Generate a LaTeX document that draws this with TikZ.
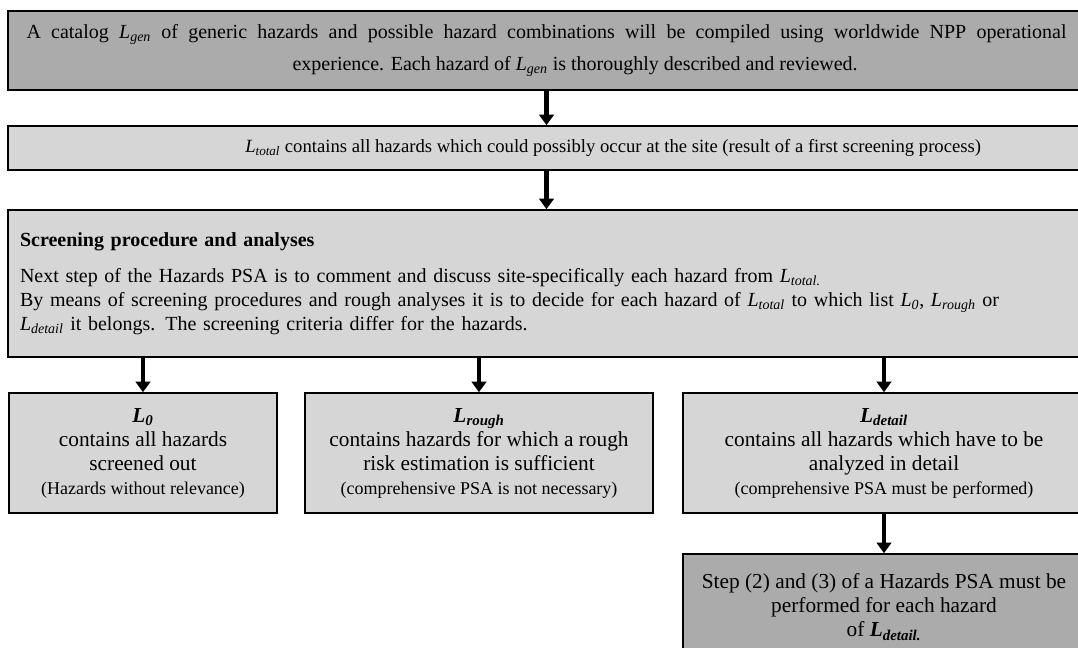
\documentclass[tikz,border=0pt]{standalone}
\usepackage{fontspec}
\setmainfont{Liberation Serif}
\usetikzlibrary{arrows.meta}

% list names such as L_gen, L_total
\newcommand{\Lit}[1]{\textit{L}\textsubscript{\textit{#1}}}
\newcommand{\Lbf}[1]{\textbf{\textit{L}\textsubscript{\textit{#1}}}}
\newcommand{\smallnote}[1]{{\fontsize{13.5}{15}\selectfont #1}}

\definecolor{boxdark}{HTML}{ABABAB}
\definecolor{boxlight}{HTML}{D6D6D6}

\tikzset{
  panel/.style={draw=black, line width=1.2pt, inner sep=0pt},
  darkpanel/.style={panel, fill=boxdark},
  lightpanel/.style={panel, fill=boxlight},
  flow/.style={line width=3.2pt, -{Triangle[width=11pt,length=8pt]}},
  topfont/.style={font=\fontsize{14}{18}\selectfont},
  body/.style={font=\fontsize{15}{18}\selectfont},
  listfont/.style={font=\fontsize{16}{18}\selectfont},
}

\begin{document}
\begin{tikzpicture}[x=0.75pt,y=-0.75pt]
\useasboundingbox (0,0) rectangle (1078,648);
\clip (0,0) rectangle (1078,648);

% catalog of generic hazards
\node[darkpanel, body, minimum width=807.75pt, minimum height=59.25pt, align=center] (gen) at (546.5,50.5)
  {\makebox[780pt][s]{A catalog \Lit{gen} of generic hazards and possible hazard combinations will be compiled using worldwide NPP operational}\\[6pt]
   \hspace*{43pt}experience. Each hazard of \Lit{gen} is thoroughly described and reviewed.};

% first screening result
\node[lightpanel, topfont, minimum width=807.75pt, minimum height=33pt] (total) at (546.5,148)
  {\hspace*{100pt}\Lit{total} contains all hazards which could possibly occur at the site (result of a first screening process)};

% screening procedure
\node[lightpanel, body, text width=789.75pt, inner xsep=9pt, minimum height=110.25pt, align=left] (screen) at (546.5,283.5)
  {\textbf{Screening procedure and analyses}\\[9pt]
   Next step of the Hazards PSA is to comment and discuss site-specifically each hazard from \Lit{total.}\\
   \makebox[774pt][s]{By means of screening procedures and rough analyses it is to decide for each hazard of \Lit{total} to which list \Lit{0}, \Lit{rough} or}\\
   \Lit{detail} it belongs. The screening criteria differ for the hazards.};

% the three lists
\node[lightpanel, listfont, minimum width=201pt, minimum height=90pt, align=center] (l0) at (143,453)
  {\Lbf{0}\\ contains all hazards\\ screened out\\ \smallnote{(Hazards without relevance)}};
\node[lightpanel, listfont, minimum width=261pt, minimum height=90pt, align=center] (lrough) at (479,453)
  {\Lbf{rough}\\ contains hazards for which a rough\\ risk estimation is sufficient\\ \smallnote{(comprehensive PSA is not necessary)}};
\node[lightpanel, listfont, minimum width=301.5pt, minimum height=90pt, align=center] (ldetail) at (884,453)
  {\Lbf{detail}\\ contains all hazards which have to be\\ analyzed in detail\\ \smallnote{(comprehensive PSA  must be performed)}};

% detailed analysis
\node[darkpanel, listfont, minimum width=301.5pt, minimum height=79.5pt, align=center] (steps) at (884,607)
  {Step (2) and (3) of a Hazards PSA must be\\ performed for each hazard\\ of \Lbf{detail.}};

% connectors
\draw[flow] (gen.south) -- (total.north);
\draw[flow] (total.south) -- (screen.north);
\draw[flow] (screen.south -| l0.north) -- (l0.north);
\draw[flow] (screen.south -| lrough.north) -- (lrough.north);
\draw[flow] (screen.south -| ldetail.north) -- (ldetail.north);
\draw[flow] (ldetail.south) -- (steps.north);
\end{tikzpicture}
\end{document}
